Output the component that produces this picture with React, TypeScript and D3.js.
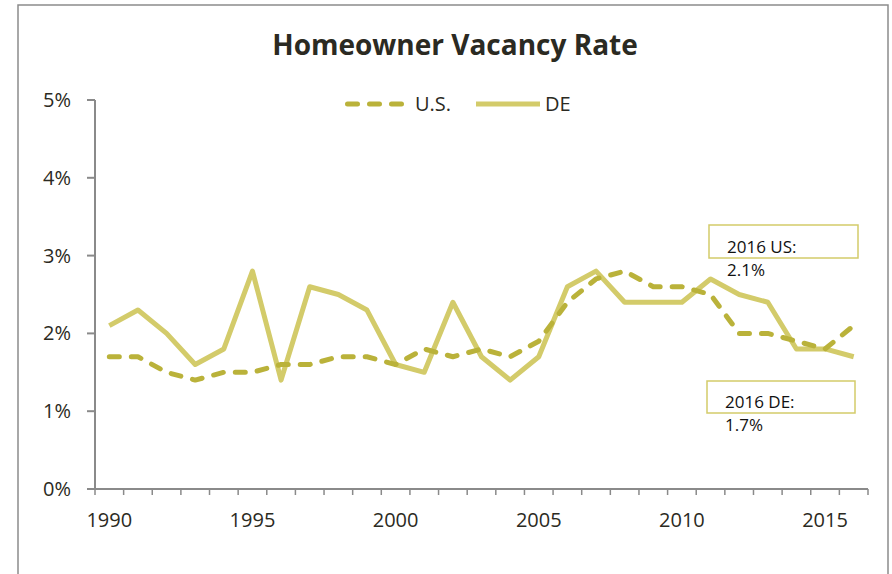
import React, { useEffect, useRef } from 'react';
import * as d3 from 'd3';

const years = [
  1990, 1991, 1992, 1993, 1994, 1995, 1996, 1997, 1998, 1999,
  2000, 2001, 2002, 2003, 2004, 2005, 2006, 2007, 2008, 2009,
  2010, 2011, 2012, 2013, 2014, 2015, 2016,
];
const usRate = [
  1.7, 1.7, 1.5, 1.4, 1.5, 1.5, 1.6, 1.6, 1.7, 1.7,
  1.6, 1.8, 1.7, 1.8, 1.7, 1.9, 2.4, 2.7, 2.8, 2.6,
  2.6, 2.5, 2.0, 2.0, 1.9, 1.8, 2.1,
];
const deRate = [
  2.1, 2.3, 2.0, 1.6, 1.8, 2.8, 1.4, 2.6, 2.5, 2.3,
  1.6, 1.5, 2.4, 1.7, 1.4, 1.7, 2.6, 2.8, 2.4, 2.4,
  2.4, 2.7, 2.5, 2.4, 1.8, 1.8, 1.7,
];
const yTicks = [0, 1, 2, 3, 4, 5];
const xLabels = [1990, 1995, 2000, 2005, 2010, 2015];
const notes = [
  { lines: ['2016 US:', '2.1%'], box: [709, 225, 149, 33] },
  { lines: ['2016 DE:', '1.7%'], box: [707, 381, 148, 32] },
];

const US_COLOR = '#bab23a';
const DE_COLOR = '#d3cb6a';
const AXIS = '#8a8a8a';
const FONT = '"Open Sans", sans-serif';

const App = () => {
  const ref = useRef<SVGSVGElement>(null);

  useEffect(() => {
    const svg = d3.select(ref.current);
    svg.selectAll('*').remove();

    const left = 95;
    const right = 868;
    const top = 100;
    const bottom = 489;

    const x = d3.scaleBand<number>().domain(years).range([left, right]).padding(0);
    const y = d3.scaleLinear().domain([0, 5]).range([bottom, top]);
    const cx = (yr: number) => (x(yr) as number) + x.bandwidth() / 2;

    // outer frame (open at bottom)
    svg
      .append('path')
      .attr('d', 'M18,580 L18,5 L888,5 L888,580')
      .attr('fill', 'none')
      .attr('stroke', '#8c8c8c')
      .attr('stroke-width', 1.5);

    svg
      .append('text')
      .attr('x', 455)
      .attr('y', 55)
      .attr('text-anchor', 'middle')
      .attr('font-family', FONT)
      .attr('font-weight', 700)
      .attr('font-size', 28)
      .attr('fill', '#2b2a22')
      .text('Homeowner Vacancy Rate');

    // y axis
    const yAxis = svg.append('g');
    yAxis
      .append('line')
      .attr('x1', left)
      .attr('x2', left)
      .attr('y1', top)
      .attr('y2', bottom)
      .attr('stroke', AXIS)
      .attr('stroke-width', 2);
    yAxis
      .selectAll('.yt')
      .data(yTicks)
      .enter()
      .append('line')
      .attr('x1', left - 8)
      .attr('x2', left)
      .attr('y1', (d) => y(d))
      .attr('y2', (d) => y(d))
      .attr('stroke', AXIS)
      .attr('stroke-width', 2);
    yAxis
      .selectAll('.yl')
      .data(yTicks)
      .enter()
      .append('text')
      .attr('x', 71)
      .attr('y', (d) => y(d) + 7)
      .attr('text-anchor', 'end')
      .attr('font-family', FONT)
      .attr('font-size', 20)
      .attr('fill', '#2b2a22')
      .text((d) => `${d}%`);

    // x axis
    const xAxis = svg.append('g');
    xAxis
      .append('line')
      .attr('x1', left)
      .attr('x2', right)
      .attr('y1', bottom)
      .attr('y2', bottom)
      .attr('stroke', AXIS)
      .attr('stroke-width', 2);
    const bounds = years.map((d) => x(d) as number).concat([right]);
    xAxis
      .selectAll('.xt')
      .data(bounds)
      .enter()
      .append('line')
      .attr('x1', (d) => d)
      .attr('x2', (d) => d)
      .attr('y1', bottom)
      .attr('y2', bottom + 6)
      .attr('stroke', AXIS)
      .attr('stroke-width', 1.5);
    xAxis
      .selectAll('.xl')
      .data(xLabels)
      .enter()
      .append('text')
      .attr('x', (d) => cx(d))
      .attr('y', 527)
      .attr('text-anchor', 'middle')
      .attr('font-family', FONT)
      .attr('font-size', 20)
      .attr('fill', '#2b2a22')
      .text((d) => d);

    const line = d3
      .line<number>()
      .x((_, i) => cx(years[i]))
      .y((d) => y(d));

    svg
      .append('path')
      .datum(deRate)
      .attr('d', line)
      .attr('fill', 'none')
      .attr('stroke', DE_COLOR)
      .attr('stroke-width', 5)
      .attr('stroke-linejoin', 'round');

    svg
      .append('path')
      .datum(usRate)
      .attr('d', line)
      .attr('fill', 'none')
      .attr('stroke', US_COLOR)
      .attr('stroke-width', 5)
      .attr('stroke-linecap', 'round')
      .attr('stroke-linejoin', 'round')
      .attr('stroke-dasharray', '10,12');

    // legend
    const lg = svg.append('g');
    lg.append('line')
      .attr('x1', 347.5)
      .attr('x2', 402)
      .attr('y1', 104)
      .attr('y2', 104)
      .attr('stroke', US_COLOR)
      .attr('stroke-width', 5)
      .attr('stroke-linecap', 'round')
      .attr('stroke-dasharray', '10,12');
    lg.append('text')
      .attr('x', 415)
      .attr('y', 111)
      .attr('font-family', FONT)
      .attr('font-size', 20)
      .attr('fill', '#2b2a22')
      .text('U.S.');
    lg.append('line')
      .attr('x1', 476)
      .attr('x2', 540)
      .attr('y1', 104)
      .attr('y2', 104)
      .attr('stroke', DE_COLOR)
      .attr('stroke-width', 5);
    lg.append('text')
      .attr('x', 545)
      .attr('y', 111)
      .attr('font-family', FONT)
      .attr('font-size', 20)
      .attr('fill', '#2b2a22')
      .text('DE');

    // 2016 annotations
    notes.forEach((n) => {
      const [bx, by, bw, bh] = n.box;
      svg
        .append('rect')
        .attr('x', bx)
        .attr('y', by)
        .attr('width', bw)
        .attr('height', bh)
        .attr('fill', 'none')
        .attr('stroke', DE_COLOR)
        .attr('stroke-width', 1.5);
      n.lines.forEach((t, i) => {
        svg
          .append('text')
          .attr('x', bx + 18)
          .attr('y', by + bh - 5 + i * 23)
          .attr('font-family', FONT)
          .attr('font-size', 17)
          .attr('fill', '#111')
          .text(t);
      });
    });
  }, []);

  return (
    <svg
      ref={ref}
      width={892}
      height={574}
      style={{ position: 'absolute', left: 0, top: 0, background: '#fff' }}
    />
  );
};

export default App;
